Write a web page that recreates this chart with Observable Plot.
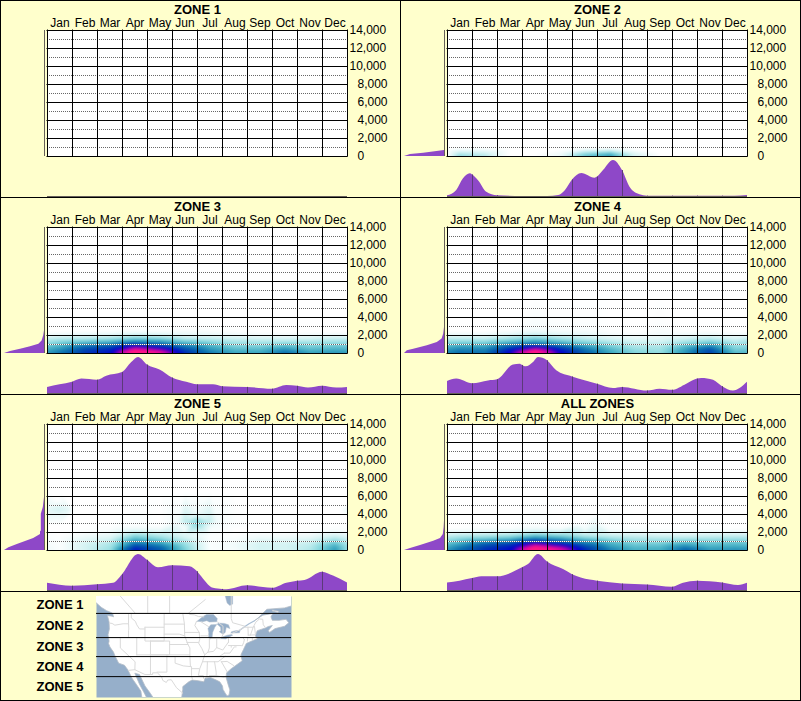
<!DOCTYPE html>
<html>
<head>
<meta charset="utf-8">
<script src="https://cdn.jsdelivr.net/npm/d3@7"></script>
<script src="https://cdn.jsdelivr.net/npm/@observablehq/plot@0.6"></script>
<style>
  html, body { margin: 0; padding: 0; background: #FFFFCC; }
  #page { position: relative; width: 801px; height: 701px; background: #FFFFCC; overflow: hidden; box-shadow: inset -1px -1px 0 #000; }
  .panel { position: absolute; box-shadow: inset 1px 1px 0 #000; }
  .panel svg { position: absolute; background: transparent; overflow: visible; }
</style>
</head>
<body>
<div id="page"></div>
<script>
const months = ["Jan","Feb","Mar","Apr","May","Jun","Jul","Aug","Sep","Oct","Nov","Dec"];
const yearTicks = [0,2000,4000,6000,8000,10000,12000,14000];
const dotTicks = [1000,3000,5000,7000,9000,11000,13000];
const wideTicks = [10000,12000,14000];
const narrowTicks = [0,2000,4000,6000,8000];
const FONT = "'Liberation Sans', Arial, sans-serif";

// Heat levels: rows are elevations, columns are positions in the year (months from Jan 1)
const heatCols = [0,.5,1.5,2.5,3.5,4.5,5.5,6.5,7.5,8.5,9.5,10.5,11.5,12];
const heatRows = [0,350,750,1100,1450,1750,2050,2400,2800];
const heatZero = [6500,14000];
const heatDomain = [0,1,2,3,4,5,6,7,8];
const heatColors = ["#ffffff","#d4f3f3","#8edbe0","#3fabc2","#0a70b0","#0040b0","#0000d0","#b000b0","#ff1090"];

const heat2 = [
  [0,2.2,1.6,0,0,.4,2.6,3.4,1,0,0,0,0,0],
  [0,1.3,1,0,0,.3,1.9,2.6,.7,0,0,0,0,0],
  [0,.2,.2,0,0,0,.3,.5,0,0,0,0,0,0],
  [0,0,0,0,0,0,0,0,0,0,0,0,0,0],
  [0,0,0,0,0,0,0,0,0,0,0,0,0,0],
  [0,0,0,0,0,0,0,0,0,0,0,0,0,0],
  [0,0,0,0,0,0,0,0,0,0,0,0,0,0],
  [0,0,0,0,0,0,0,0,0,0,0,0,0,0],
  [0,0,0,0,0,0,0,0,0,0,0,0,0,0]
];
const heat3 = [
  [3.5,4,5.2,5.8,8.8,8,5.5,4,3.2,3.2,4.2,3.3,3.5,3.4],
  [3,3.6,5,5.6,8.4,7.2,5,3.5,2.8,2.8,3.6,2.8,3,2.9],
  [2.6,3,4.2,4.8,6.6,5.5,4,3,2.3,2.3,2.8,2.3,2.5,2.5],
  [2,2.4,3,3.4,4.6,4,3,2.4,1.8,1.8,2,1.9,2,2],
  [1.5,1.8,2,2.3,3,2.8,2,1.7,1.4,1.3,1.3,1.3,1.5,1.5],
  [1,1.2,1.3,1.5,2,1.8,1.2,1.1,.9,.8,.7,.8,1,1],
  [.3,.5,.6,.7,1,.9,.6,.5,.4,.3,.2,.3,.4,.3],
  [0,0,.1,.1,.3,.2,.3,.2,.1,0,0,0,0,0],
  [0,0,0,0,0,0,0,0,0,0,0,0,0,0]
];
const heat4 = [
  [3.8,4.2,4,6.2,8.8,6.2,4.5,3.2,2.2,2,3.4,5,2.8,2.8],
  [3.4,3.8,3.8,5.8,8.2,5.8,4.1,2.9,2,1.8,3.2,4.8,2.4,2.5],
  [2.9,3.2,3.2,4.6,6,4.6,3.4,2.4,1.6,1.6,2.8,3.8,2,2.1],
  [2.2,2.4,2.4,3.2,3.8,3.2,2.4,1.8,1.2,1.2,2,2.6,1.6,1.8],
  [1.7,1.7,1.7,2.2,2.8,2.2,1.7,1.2,.9,.9,1.4,1.8,1.2,1.5],
  [1.1,1.1,1.1,1.6,2,1.6,1.2,.8,.5,.6,.9,1.2,.8,1],
  [.5,.5,.5,.8,1.2,.8,.6,.3,.2,.3,.4,.5,.3,.4],
  [0,0,0,.2,.5,.3,.3,.1,0,.2,.1,.1,0,0],
  [0,0,0,0,.2,.1,.1,0,0,.1,0,0,0,0]
];
const heat5 = [
  [.3,.1,.9,1.8,5.8,4.6,2.3,.1,.2,.9,.9,1.5,3.3,1.8],
  [.3,.1,1,1.7,5.2,4.2,2.1,.1,.3,1,1,1.4,3.1,1.8],
  [.2,.1,.9,1.5,4,3.3,1.8,.1,.3,.9,.9,1.2,2.5,1.5],
  [.2,.1,.7,1.1,3.1,2.5,1.4,.1,.2,.7,.7,1,1.9,1.3],
  [.1,.1,.5,.8,2.4,1.8,1,.1,.1,.4,.4,.6,1.3,.9],
  [.1,0,.3,.5,1.8,1.3,.7,.1,0,.2,.2,.3,.8,.5],
  [0,0,.1,.2,1,.7,.3,.1,0,0,0,.1,.3,.2],
  [0,0,0,.1,.4,.3,.2,.3,0,0,0,0,.1,0],
  [0,0,0,0,.1,0,.4,.5,.1,0,0,0,0,0]
];
const heatAll = [
  [3.5,4.2,5.4,5.9,8.8,7.8,5.6,3.9,3,3,4.4,3.4,3.6,3.5],
  [3.1,3.8,5.1,5.7,8.4,7.2,5.1,3.4,2.7,2.8,3.8,3,3.1,3],
  [2.6,3.1,4.3,4.9,6.7,5.5,4,2.9,2.3,2.3,2.9,2.5,2.6,2.5],
  [2,2.4,3,3.4,4.8,4,3,2.3,1.8,1.8,2,2,2.1,2],
  [1.5,1.8,2,2.3,3.2,2.8,2,1.6,1.4,1.3,1.3,1.4,1.5,1.5],
  [1,1.2,1.3,1.5,2.2,1.8,1.2,1,.9,.8,.7,.9,1,1],
  [.4,.5,.6,.7,1.1,.9,.6,.4,.4,.3,.2,.3,.4,.4],
  [0,0,.1,.1,.4,.2,.2,.1,.1,0,0,0,0,0],
  [0,0,0,0,.1,0,.2,.1,0,0,0,0,0,0]
];
// Isolated faint patches above the main band: [month, elevation, level]
const patches5 = [
  [5.97,3100,2.2],[5.5,3100,1.4],[6.5,3100,1.3],[5.97,3600,1.5],[5.97,4100,.4],[5.2,3100,.3],[6.8,3100,.3],
  [.45,4500,1],[.05,4500,.7],[.85,4500,.7],[.45,5100,.5],[.45,3900,.4],[1.05,4500,0],[.45,5600,0],
  [12,4500,.6],[11.7,4500,0],[12,5200,0],[12,3800,0]
];
const patchesAll = [[5.9,3000,.4],[5.9,3500,.3],[5.9,4000,0],[6.4,3000,0],[5.3,3000,0]];

// Seasonal profile under each panel: [month, percent of peak]
const season2 = [[0,2],[.37,17],[.64,49],[.91,63],[1,60],[1.24,44],[1.57,12],[2,2],[3,0],[4,0],[4.45,3],[4.72,17],[5,46],[5.37,64],[5.9,51],[6,54],[6.24,72],[6.64,100],[7,72],[7.3,26],[7.7,5],[8,1],[9,1],[10,1],[11,1],[11.5,1],[12,3]];
const season3 = [[0,17],[.5,24],[1,31],[1.37,40],[2,37],[2.37,48],[3,58],[3.37,86],[3.64,100],[4,79],[4.5,65],[5,43],[5.57,31],[6,24],[6.64,24],[7,19],[8,17],[9,12],[9.57,22],[10,20],[10.44,15],[11,20],[11.57,15],[12,17]];
const season4 = [[0,33],[.37,40],[1,27],[1.64,35],[2,38],[2.64,79],[2.9,81],[3,78],[3.15,74],[3.44,86],[3.64,100],[4,91],[4.37,63],[5,46],[6,26],[6.64,14],[7,17],[8,7],[8.5,12],[9,9],[9.57,26],[10,40],[10.17,42],[10.64,37],[11,19],[11.44,7],[12,31]];
const season5 = [[0,20],[1,12],[2,16],[2.64,20],[3,44],[3.64,100],[4,84],[4.44,63],[5,69],[5.7,66],[6,52],[6.1,44],[6.64,6],[7,3],[7.17,2],[8,13],[9,6],[9.57,20],[10,26],[10.3,28],[11,51],[11.44,40],[12,21]];
const seasonAll = [[0,21],[.5,26],[1,33],[1.37,38],[2,38],[3,63],[3.24,72],[3.64,100],[4,79],[4.64,58],[5,44],[5.7,29],[6,26],[7,18],[8,15],[9,9],[9.44,20],[10,26],[11,21],[11.64,14],[12,20]];

// Elevation profile left of each panel: [elevation, percent of widest]
const elev2 = [[0,100],[220,85],[370,52],[670,0]];
const elev3 = [[0,100],[220,85],[480,60],[740,35],[1040,14],[1400,6],[1970,2],[2530,0]];
const elev4 = [[0,100],[300,93],[480,77],[860,43],[1230,18],[1600,6],[2160,2],[2900,0]];
const elev5 = [[0,100],[300,89],[670,68],[1340,27],[1790,10],[2085,10],[2160,8],[4020,8],[4770,3],[5880,0]];
const elevAll = [[0,100],[220,85],[560,60],[1040,27],[1340,10],[1790,3],[2530,1],[3280,0]];

const panels = [
  {name:"ZONE 1", left:0, top:0, w:400, heat:null, patches:[], season:[], elev:[]},
  {name:"ZONE 2", left:400, top:0, w:401, heat:heat2, patches:[], season:season2, elev:elev2},
  {name:"ZONE 3", left:0, top:197, w:400, heat:heat3, patches:[], season:season3, elev:elev3},
  {name:"ZONE 4", left:400, top:197, w:401, heat:heat4, patches:[], season:season4, elev:elev4},
  {name:"ZONE 5", left:0, top:394, w:400, heat:heat5, patches:patches5, season:season5, elev:elev5},
  {name:"ALL ZONES", left:400, top:394, w:401, heat:heatAll, patches:patchesAll, season:seasonAll, elev:elevAll}
];

const PURPLE = "#8E48C8";
const GREY = "#66605a";
const baseStyle = {background:"transparent", fontFamily:FONT, fontSize:"12px", color:"#000"};

function heatPoints(p) {
  const pts = [];
  heatRows.forEach((e,r) => heatCols.forEach((m,c) => pts.push({m, e, v:p.heat[r][c]})));
  heatZero.forEach(e => heatCols.forEach(m => pts.push({m, e, v:0})));
  p.patches.forEach(([m,e,v]) => pts.push({m, e, v}));
  return pts;
}

function mainPlot(p) {
  const marks = [Plot.frame({fill:"#fff", stroke:"none"})];
  if (p.heat) marks.push(Plot.raster(heatPoints(p), {
    x:"m", y:"e", fill:"v", x1:0, x2:12, y1:0, y2:14000,
    interpolate:"barycentric", pixelSize:1, blur:1, imageRendering:"auto"
  }));
  marks.push(
    Plot.ruleY(dotTicks, {stroke:"#fff", strokeDasharray:"1,1", strokeDashoffset:1}),
    Plot.ruleY(dotTicks, {stroke:"#666", strokeDasharray:"1,1"}),
    Plot.ruleX(d3.range(13), {stroke:"#000", strokeLinecap:"square"}),
    Plot.ruleY(yearTicks, {stroke:"#000", strokeLinecap:"square"}),
    Plot.axisX(months.map((d,i) => i + .5), {anchor:"top", tickSize:0, tickPadding:4, label:null,
      tickFormat:d => months[Math.floor(d)], fontSize:12}),
    Plot.axisY(wideTicks, {anchor:"right", tickSize:0, tickPadding:2, label:null, tickFormat:d3.format(","), fontSize:12}),
    Plot.axisY(narrowTicks, {anchor:"right", tickSize:0, tickPadding:10, label:null, tickFormat:d3.format(","), fontSize:12}),
    Plot.text([p.name], {x:6, frameAnchor:"top", dy:-26, text:d=>d, fontWeight:"bold", fontSize:13, fill:"#000"})
  );
  return Plot.plot({
    width:400, height:197, marginLeft:47, marginRight:53, marginTop:30, marginBottom:41,
    x:{domain:[0,12], axis:null}, y:{domain:[0,14000], axis:null},
    color:{type:"linear", domain:heatDomain, range:heatColors, legend:false},
    style:baseStyle, marks
  });
}

function seasonPlot(p) {
  return Plot.plot({
    width:400, height:40, marginLeft:47, marginRight:53, marginTop:3, marginBottom:1,
    x:{domain:[0,12], axis:null}, y:{domain:[0,100], axis:null},
    style:baseStyle,
    marks:[
      Plot.areaY(p.season, {x:d=>d[0], y:d=>d[1], fill:PURPLE, curve:"monotone-x"}),
      Plot.ruleX(p.season.filter(d => Number.isInteger(d[0]) && d[0] > 0 && d[0] < 12 && d[1] > 0), {x:d=>d[0], y1:0, y2:d=>d[1], stroke:"#5b3a78"}),
      Plot.ruleY([0], {stroke:GREY})
    ]
  });
}

function elevPlot(p) {
  return Plot.plot({
    width:46, height:197, marginLeft:4, marginRight:2, marginTop:30, marginBottom:41,
    x:{domain:[100,0], axis:null}, y:{domain:[0,14000], axis:null},
    style:baseStyle,
    marks:[
      Plot.areaX(p.elev, {y:d=>d[0], x:d=>d[1], fill:PURPLE}),
      Plot.ruleX([0], {stroke:GREY})
    ]
  });
}

const page = document.getElementById("page");
for (const p of panels) {
  const div = document.createElement("div");
  div.className = "panel";
  div.style.cssText = `left:${p.left}px;top:${p.top}px;width:${p.w}px;height:197px`;
  const a = mainPlot(p), b = seasonPlot(p), c = elevPlot(p);
  a.style.left = "0"; a.style.top = "0";
  b.style.left = "0"; b.style.top = "157px";
  c.style.left = "0"; c.style.top = "0";
  div.append(a, b, c);
  page.append(div);
}

// Locator map: longitude/latitude outlines
const zoneNames = ["ZONE 1","ZONE 2","ZONE 3","ZONE 4","ZONE 5"];
const lonRange = [-128.7,-57.5];
const latRange = [24.65,53.9];
const zoneEdges = [53.9,49,42,36.5,30.7,24.65];

const land = [[-131,52],[-128.7,52],[-127,50.8],[-125,49.8],[-123.2,49.2],[-122.8,49],[-122.5,48],[-123,48.2],[-124.7,48.4],[-124.1,46.5],[-124,44.5],[-124.5,42.8],[-124.1,41],[-124.3,40.3],[-123.8,39.3],[-122.5,37.8],[-121.9,36.6],[-120.6,34.6],[-118.5,34],[-117.2,32.6],[-115.8,30.3],[-114.2,28.5],[-112.5,26.5],[-112,24],[-110,24],[-111.3,26],[-113,28.5],[-114.7,31.7],[-113,31.3],[-111,28],[-109,25.8],[-107.5,24],[-97.7,24],[-97.2,27],[-97.2,27.8],[-95,29.2],[-93.8,29.7],[-91.5,29.5],[-89.5,29.2],[-89,30.3],[-87,30.4],[-85,29.7],[-83.7,29.2],[-82.7,28],[-82.5,27],[-81.7,25.9],[-81,25.1],[-80.3,25.4],[-80,26.8],[-80.6,28.3],[-81.4,30.5],[-81.2,31.8],[-79.5,33],[-77.9,33.9],[-76,35],[-75.5,35.3],[-76,36.9],[-75.5,37.8],[-75,38.6],[-74,40.3],[-72,41],[-70,41.7],[-70.7,42.5],[-70,44],[-67,44.8],[-66,45.2],[-64.5,45.5],[-66,44],[-65.5,43.5],[-63.5,44.6],[-60,45.3],[-58.5,46.3],[-59.5,47.3],[-62,47],[-64.5,47],[-65,48],[-64.3,49],[-68,48.5],[-71,46.9],[-69.5,47.8],[-66.5,50.2],[-60,50.6],[-57,51.3],[-57,55],[-131,55]];
const anticosti = [[-64.5,50],[-62,49.6],[-62.5,49.3],[-64.5,49.7]];
const lakes = [
  [[-92,46.7],[-90,46.6],[-88.4,46.9],[-87.5,46.5],[-84.8,46.6],[-84.6,47.5],[-86,48.7],[-88.5,48.7],[-90,48],[-92,46.7]],
  [[-87.8,42],[-87.2,41.6],[-86.5,42],[-86.3,43.5],[-85.5,45],[-84.8,45.8],[-87,45.7],[-88,44.6],[-87.7,43.5],[-87.8,42]],
  [[-84.7,45.9],[-83.4,45],[-83.3,44],[-83.9,43.7],[-82.5,43],[-81.7,43.5],[-81.3,45],[-80,44.6],[-80.5,45.7],[-82,46.1],[-84.2,46.2]],
  [[-83.4,41.7],[-81.5,41.6],[-79,42.7],[-79.3,42.9],[-81,42.7],[-83,42.1]],
  [[-79.7,43.3],[-76.5,43.4],[-76.3,44.1],[-78,44],[-79.4,43.7]],
  [[-82,55],[-81,52],[-80,51.3],[-79,51.7],[-79,55]]
];
const stLawrence = [[-76.3,44.2],[-74.5,45.2],[-73,46],[-71,46.9]];
const borders = [
  [[-123,49],[-95.2,49],[-94.6,48.7],[-93,48.6],[-91.5,48.1],[-89.5,48]],
  [[-84.5,46.5],[-82.5,45.3],[-82.5,43],[-83,42]],
  [[-79,43.3],[-76.5,44.2],[-74.7,45],[-71.5,45],[-70.5,46.5],[-69.2,47.4],[-68,47.3],[-67.8,45.7],[-67,44.9]],
  [[-117.1,32.5],[-114.7,32.7],[-111,31.3],[-108.2,31.3],[-108.2,31.8],[-106.5,31.8],[-104.9,30.6],[-104.5,29.6],[-103.2,29],[-102.7,29.7],[-101.4,29.8],[-99.5,27.5],[-97.2,25.9]],
  [[-114.5,49],[-120,54]],[[-110,49],[-110,54]],[[-102,49],[-102,54]],[[-95.2,49],[-89,53]],
  [[-79.5,54],[-79.5,47.5],[-79,46.3],[-74.5,45.3]],
  [[-124,46.2],[-123,46.1],[-122,45.6],[-119,46],[-117,46]],
  [[-117,49],[-117,46],[-116.9,44.5],[-117,44],[-117,42]],
  [[-124.2,42],[-111,42]],
  [[-120,42],[-120,39],[-114.6,35],[-114.7,32.7]],
  [[-116,49],[-116,47.7],[-114.5,46.7],[-114,45.7],[-113,44.5],[-111,44.5]],
  [[-111,45],[-104,45],[-104,41],[-111,41],[-111,45]],
  [[-104,49],[-104,45]],
  [[-104,45.9],[-96.6,45.9]],
  [[-104,43],[-98.5,43],[-96.5,42.5]],
  [[-97.2,49],[-96.6,46],[-96.5,42.5],[-95.3,40],[-94.6,39],[-94.6,36.5],[-94.4,33.6]],
  [[-96.5,43.5],[-91.2,43.5]],
  [[-109,41],[-102,41],[-102,37],[-109,37],[-109,41]],
  [[-102,40],[-95.3,40]],
  [[-114,42],[-114,37]],
  [[-114,37],[-94.6,37]],
  [[-109,37],[-109,31.3]],
  [[-103,37],[-103,32],[-106.6,32]],
  [[-103,36.5],[-100,36.5],[-100,34.6],[-97,33.8],[-94.4,33.6],[-94,33.6],[-94,31],[-93.7,30]],
  [[-95.7,40.6],[-91.5,40.6]],
  [[-92.2,46.7],[-92.8,45.5],[-91.2,43.5],[-91,41.5],[-91.4,40.4],[-90.2,38.8],[-89.2,37],[-90,35],[-91,33],[-91.5,31],[-89.7,31],[-89.6,30.2]],
  [[-94.6,36.5],[-90,36.5]],
  [[-90,35],[-84.3,35],[-81.7,36.6]],
  [[-89.5,36.5],[-81.7,36.6],[-75.9,36.6]],
  [[-88.2,35],[-88.4,30.3]],
  [[-85.6,35],[-85,32],[-85,31]],
  [[-87.5,31],[-85,31],[-82.2,30.5],[-81.5,30.7]],
  [[-83.1,35],[-81,32.1]],
  [[-83.1,35],[-81,35.1],[-78.6,33.9]],
  [[-94,33],[-91.2,33]],
  [[-89.2,37],[-88,37.8],[-86,38],[-84.8,39.1],[-82.6,38.4],[-80.6,40.6]],
  [[-87.5,41.7],[-87.5,39],[-88,37.8]],
  [[-84.8,41.7],[-84.8,39.1]],
  [[-87,41.75],[-83.4,41.7]],
  [[-90.6,42.5],[-87.8,42.5]],
  [[-90.4,46.5],[-87.8,45.2]],
  [[-80.5,42],[-80.5,40.6]],
  [[-79.8,42],[-75.3,42],[-74.7,41.4]],
  [[-80.5,39.7],[-75.8,39.7]],
  [[-82,37.5],[-80,37.5],[-78.4,39.3],[-77.7,39.3]],
  [[-79.5,39.7],[-79.5,39.2]],
  [[-75.5,39.6],[-75,40.5],[-74.7,41.4]],
  [[-83.7,36.6],[-82,37.5]],
  [[-73.4,45],[-73.3,42.7]],
  [[-73.5,42],[-73.6,41]],
  [[-73.3,42.7],[-70.8,42.8]],
  [[-73.5,42],[-71.8,42],[-71.8,41.3]],
  [[-71.5,45],[-72.5,42.7]],
  [[-71,45.2],[-70.7,43.1]]
];

const shape = (rings, opts) => rings.map(r => Plot.line(r, {x:d=>d[0], y:d=>d[1], ...opts}));
const mapPlot = Plot.plot({
  width:801, height:110, marginLeft:96, marginRight:510, marginTop:5, marginBottom:4,
  x:{domain:lonRange, axis:null}, y:{domain:latRange, axis:null},
  style:{...baseStyle, position:"absolute", left:"0", top:"591px"},
  marks:[
    Plot.frame({fill:"#96AFCA", stroke:"none"}),
    ...shape([land, anticosti], {fill:"#fff", stroke:"#b4bcc6", strokeWidth:.8, clip:true}),
    ...shape(lakes, {fill:"#96AFCA", stroke:"#aebccb", strokeWidth:.5, clip:true}),
    ...shape([stLawrence], {stroke:"#a9bed4", strokeWidth:1.2, clip:true}),
    ...shape(borders, {stroke:"#dadada", strokeWidth:1, clip:true}),
    Plot.ruleY(zoneEdges.slice(1,5), {stroke:"#000"}),
    Plot.text(zoneNames, {
      x:lonRange[0], y:(d,i) => (zoneEdges[i] + zoneEdges[i+1]) / 2,
      text:d=>d, textAnchor:"end", dx:-13, fontWeight:"bold", fontSize:13, fill:"#000", clip:false
    })
  ]
});
page.append(mapPlot);
const legendFrame = document.createElement("div");
legendFrame.className = "panel";
legendFrame.style.cssText = "left:0;top:591px;width:801px;height:110px";
page.append(legendFrame);
</script>
</body>
</html>
